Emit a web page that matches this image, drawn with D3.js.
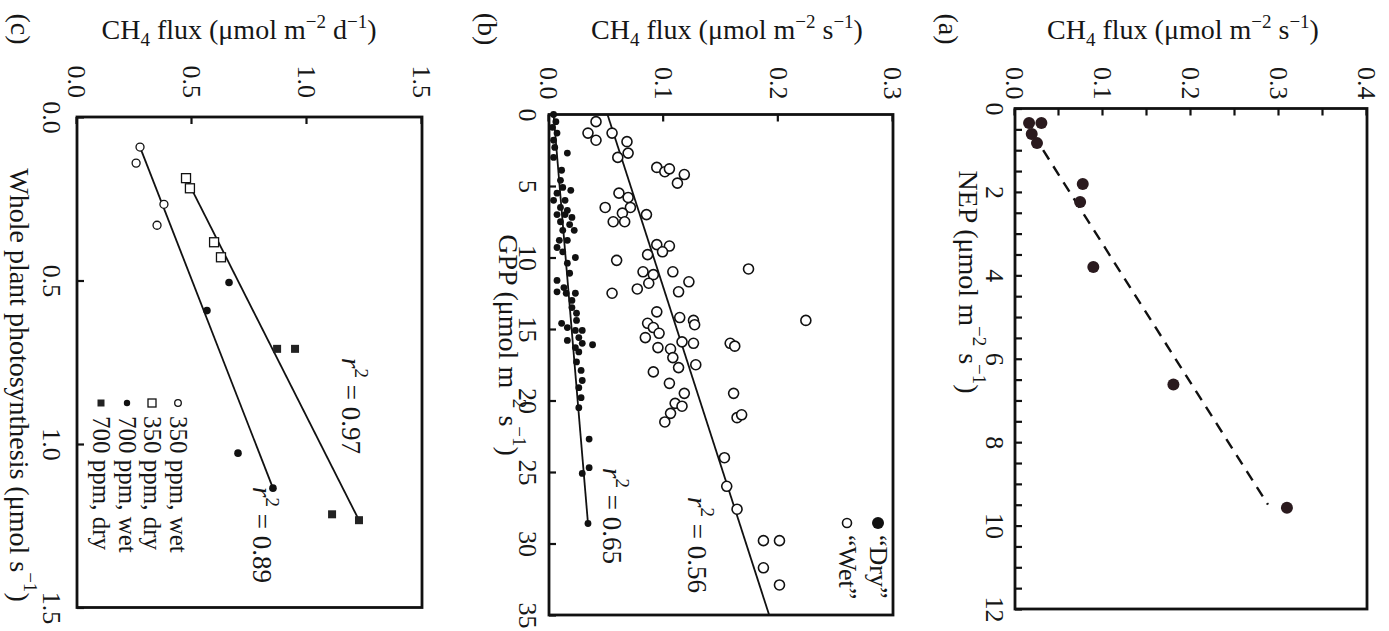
<!DOCTYPE html>
<html>
<head>
<meta charset="utf-8">
<script src="https://cdn.jsdelivr.net/npm/d3@7"></script>
<style>
  body { margin: 0; background: #fff; }
  text { font-family: "Liberation Serif", "Times New Roman", serif; fill: #161616; }
</style>
</head>
<body>
<svg></svg>
<script>
// ====== données ====== //

// (a) CH4 vs NEP
const nepA = [0.35, 0.35, 0.61, 0.83, 1.81, 2.24, 3.80, 6.62, 9.57];
const ch4A = [0.016, 0.030, 0.019, 0.025, 0.077, 0.074, 0.089, 0.180, 0.309];
const nepFitA = [1.0, 9.5];
const ch4FitA = [0.032, 0.2875];

// (b) CH4 vs GPP, "Wet" (cercles vides) et "Dry" (points pleins)
const gppWet = [0.5, 1.3, 1.8, 1.3, 1.9, 2.7, 3.0, 3.7, 4.0, 3.8, 4.2, 4.8, 5.5, 5.8, 6.5, 6.5, 6.9, 7.5, 7.5, 7.0,
  9.1, 9.2, 9.6, 9.8, 10.2, 10.8, 11.0, 11.2, 11.0, 11.7, 11.8, 12.2, 12.4, 12.5, 13.8, 14.2, 14.4, 14.6, 14.7, 14.9,
  15.3, 15.6, 14.4, 16.0, 16.2, 15.9, 16.0, 16.3, 16.4, 17.0, 17.7, 17.5, 18.0, 18.8, 19.5, 19.5, 20.2, 20.4, 20.9, 21.5,
  21.2, 21.0, 24.0, 26.0, 27.6, 29.8, 29.8, 31.7, 32.9];
const ch4Wet = [0.041, 0.034, 0.041, 0.055, 0.068, 0.069, 0.060, 0.094, 0.101, 0.105, 0.118, 0.112, 0.061, 0.069, 0.049, 0.071, 0.064, 0.056, 0.066, 0.085,
  0.094, 0.105, 0.099, 0.086, 0.059, 0.174, 0.082, 0.091, 0.108, 0.122, 0.087, 0.077, 0.113, 0.055, 0.094, 0.114, 0.126, 0.086, 0.127, 0.091,
  0.096, 0.084, 0.224, 0.158, 0.162, 0.116, 0.126, 0.095, 0.106, 0.108, 0.113, 0.128, 0.091, 0.105, 0.161, 0.118, 0.110, 0.116, 0.106, 0.101,
  0.164, 0.168, 0.153, 0.155, 0.164, 0.187, 0.201, 0.187, 0.201];
const gppDry = [0.0, 0.5, 0.9, 1.3, 1.8, 2.3, 2.7, 3.0, 3.9, 4.6, 5.1, 5.3, 5.5, 6.0, 6.0, 6.5, 6.7, 7.0, 7.0, 7.2,
  7.5, 7.7, 8.1, 8.1, 8.8, 8.8, 9.3, 9.6, 10.0, 10.4, 11.1, 11.6, 12.1, 12.4, 12.5, 12.5, 13.0, 13.5, 13.9, 14.4,
  14.6, 14.9, 15.1, 15.1, 15.6, 15.8, 16.3, 16.0, 16.1, 16.6, 17.3, 17.9, 18.6, 19.1, 19.8, 20.5, 22.7, 24.7, 25.1, 28.6];
const ch4Dry = [0.004, 0.006, 0.003, 0.007, 0.004, 0.005, 0.016, 0.004, 0.011, 0.010, 0.012, 0.019, 0.007, 0.004, 0.014, 0.010, 0.016, 0.007, 0.014, 0.020,
  0.010, 0.018, 0.012, 0.022, 0.009, 0.016, 0.007, 0.012, 0.023, 0.016, 0.018, 0.007, 0.013, 0.007, 0.015, 0.023, 0.020, 0.020, 0.024, 0.024,
  0.011, 0.016, 0.023, 0.029, 0.026, 0.016, 0.023, 0.029, 0.038, 0.026, 0.024, 0.028, 0.029, 0.026, 0.028, 0.026, 0.035, 0.035, 0.029, 0.034];
const gppFitWet = [0, 35];
const ch4FitWet = [0.051, 0.192];
const gppFitDry = [0, 28.6];
const ch4FitDry = [0.004, 0.034];

// (c) CH4 vs photosynthèse de la plante entière
const ps350wet = [0.092, 0.141, 0.267, 0.331];
const ch4_350wet = [0.274, 0.257, 0.378, 0.348];
const ps350dry = [0.187, 0.218, 0.383, 0.429];
const ch4_350dry = [0.474, 0.491, 0.596, 0.626];
const ps700wet = [0.506, 0.592, 1.028, 1.135];
const ch4_700wet = [0.661, 0.565, 0.700, 0.852];
const ps700dry = [0.709, 0.709, 1.215, 1.233];
const ch4_700dry = [0.870, 0.948, 1.109, 1.226];
const psFitWet = [0.092, 1.135];
const ch4FitWetC = [0.274, 0.852];
const psFitDry = [0.199, 1.233];
const ch4FitDryC = [0.483, 1.226];
const legendC = ["350 ppm, wet", "350 ppm, dry", "700 ppm, wet", "700 ppm, dry"];

// ====== mise en place ====== //
const W = 1389, H = 631;
const svg = d3.select("svg").attr("width", W).attr("height", H);

// la figure est tournée de 90° (sens horaire) : X = y écran, Y = W - x écran
const rot = svg.append("g").attr("transform", `translate(${W},0) rotate(90)`);
const S = sx => W - sx;
const FS = 26;      // graduations
const FT = 28;      // titres d'axes

function zip(a, b) { return a.map((v, i) => [v, b[i]]); }

// cadre + axes (ticks vers l'intérieur)
function frame(x, y, bottomTicks, bottomFmt, leftTicks, leftFmt, padB, padL) {
  const g = rot.append("g");
  g.append("rect")
    .attr("x", x.range()[0]).attr("y", y.range()[1])
    .attr("width", x.range()[1] - x.range()[0])
    .attr("height", y.range()[0] - y.range()[1])
    .attr("fill", "none").attr("stroke", "#111").attr("stroke-width", 2.8);
  const ab = g.append("g").attr("transform", `translate(0,${y.range()[0]})`)
    .call(d3.axisBottom(x).tickValues(bottomTicks).tickFormat(bottomFmt)
      .tickSizeInner(-7).tickSizeOuter(0).tickPadding(padB));
  const al = g.append("g").attr("transform", `translate(${x.range()[0]},0)`)
    .call(d3.axisLeft(y).tickValues(leftTicks).tickFormat(leftFmt)
      .tickSizeInner(-7).tickSizeOuter(0).tickPadding(padL));
  [ab, al].forEach(a => {
    a.select(".domain").remove();
    a.selectAll("line").attr("stroke", "#111").attr("stroke-width", 2.2);
    a.selectAll("text").attr("font-size", FS).attr("font-family", "Liberation Serif").attr("fill", "#161616");
  });
  return g;
}

// texte tourné centré sur un point écran
function rtext(sx, sy, anchor, fs) {
  return rot.append("text")
    .attr("x", sy).attr("y", S(sx))
    .attr("text-anchor", anchor || "middle")
    .attr("dominant-baseline", "central")
    .attr("font-size", fs || FT);
}

function unitLabel(t, pre, unit) {
  t.append("tspan").text(pre + " (μmol m");
  t.append("tspan").attr("dy", -11).attr("font-size", 19).text("−2");
  t.append("tspan").attr("dy", 11).text(" " + unit);
  t.append("tspan").attr("dy", -11).attr("font-size", 19).text("−1");
  t.append("tspan").attr("dy", 11).text(")");
}

function r2Label(sx, sy, val) {
  const t = rtext(sx, sy, "start", 27);
  t.append("tspan").attr("font-style", "italic").text("r");
  t.append("tspan").attr("dy", -11).attr("font-size", 19).text("2");
  t.append("tspan").attr("dy", 11).text(" = " + val);
}

// titres CH4 (droits à l'écran)
function ch4Title(cx, unit) {
  const t = svg.append("text").attr("x", cx).attr("y", 39)
    .attr("text-anchor", "middle").attr("font-size", FT);
  t.append("tspan").text("CH");
  t.append("tspan").attr("dy", 7).attr("font-size", 19).text("4");
  t.append("tspan").attr("dy", -7).text(" flux (μmol m");
  t.append("tspan").attr("dy", -11).attr("font-size", 19).text("−2");
  t.append("tspan").attr("dy", 11).text(" " + unit);
  t.append("tspan").attr("dy", -11).attr("font-size", 19).text("−1");
  t.append("tspan").attr("dy", 11).text(")");
}

const line = (x, y) => d3.line().x(d => x(d[0])).y(d => y(d[1]));

// ================= (a) ================= //
const xA = d3.scaleLinear().domain([0, 12]).range([108.5, 609]);
const yA = d3.scaleLinear().domain([0, 0.4]).range([S(1015), S(1367)]);
frame(xA, yA, d3.range(0, 12.01, 0.5), d => d % 2 === 0 ? d : "",
  d3.range(0, 0.401, 0.05), d => Math.round(d * 100) % 10 === 0 ? d.toFixed(1) : "", 11, 9);

rot.append("path").datum(zip(nepFitA, ch4FitA))
  .attr("d", line(xA, yA)).attr("fill", "none")
  .attr("stroke", "#111").attr("stroke-width", 2.4).attr("stroke-dasharray", "11,8");
rot.append("g").selectAll("circle").data(zip(nepA, ch4A)).join("circle")
  .attr("cx", d => xA(d[0])).attr("cy", d => yA(d[1])).attr("r", 6)
  .attr("fill", "#2a1a1e");

ch4Title(1183, "s");
rtext(948, 29).text("(a)");
unitLabel(rtext(969, 282), "NEP", "s");

// ================= (b) ================= //
const xB = d3.scaleLinear().domain([0, 35]).range([114.5, 615]);
const yB = d3.scaleLinear().domain([0, 0.3]).range([S(549), S(893)]);
frame(xB, yB, d3.range(0, 36, 5), d => d,
  [0, 0.1, 0.2, 0.3], d => d.toFixed(1), 12, 15);

rot.append("path").datum(zip(gppFitWet, ch4FitWet))
  .attr("d", line(xB, yB)).attr("fill", "none").attr("stroke", "#111").attr("stroke-width", 1.8);
rot.append("path").datum(zip(gppFitDry, ch4FitDry))
  .attr("d", line(xB, yB)).attr("fill", "none").attr("stroke", "#111").attr("stroke-width", 1.8);
rot.append("g").selectAll("circle").data(zip(gppWet, ch4Wet)).join("circle")
  .attr("cx", d => xB(d[0])).attr("cy", d => yB(d[1])).attr("r", 5)
  .attr("fill", "#fff").attr("stroke", "#111").attr("stroke-width", 1.6);
rot.append("g").selectAll("circle").data(zip(gppDry, ch4Dry)).join("circle")
  .attr("cx", d => xB(d[0])).attr("cy", d => yB(d[1])).attr("r", 3.4)
  .attr("fill", "#111");

// légende (b)
rot.append("circle").attr("cx", 523).attr("cy", S(878)).attr("r", 6).attr("fill", "#111");
rot.append("circle").attr("cx", 523).attr("cy", S(847)).attr("r", 4.5)
  .attr("fill", "#fff").attr("stroke", "#111").attr("stroke-width", 1.6);
rtext(878, 535, "start", 26).text("“Dry”");
rtext(847, 535, "start", 26).text("“Wet”");

r2Label(697, 497, "0.56");
r2Label(612, 468, "0.65");

ch4Title(727, "s");
rtext(487, 29).text("(b)");
unitLabel(rtext(509, 345), "GPP", "s");

// ================= (c) ================= //
const xC = d3.scaleLinear().domain([0, 1.5]).range([117, 607.5]);
const yC = d3.scaleLinear().domain([0, 1.5]).range([S(77), S(422)]);
frame(xC, yC, [0, 0.5, 1, 1.5], d => d.toFixed(1),
  [0, 0.5, 1, 1.5], d => d.toFixed(1), 16, 19);

rot.append("path").datum(zip(psFitWet, ch4FitWetC))
  .attr("d", line(xC, yC)).attr("fill", "none").attr("stroke", "#111").attr("stroke-width", 1.8);
rot.append("path").datum(zip(psFitDry, ch4FitDryC))
  .attr("d", line(xC, yC)).attr("fill", "none").attr("stroke", "#111").attr("stroke-width", 1.8);

const gc = rot.append("g");
gc.selectAll(".ow").data(zip(ps350wet, ch4_350wet)).join("circle").attr("class", "ow")
  .attr("cx", d => xC(d[0])).attr("cy", d => yC(d[1])).attr("r", 4)
  .attr("fill", "#fff").attr("stroke", "#111").attr("stroke-width", 1.3);
gc.selectAll(".od").data(zip(ps350dry, ch4_350dry)).join("rect").attr("class", "od")
  .attr("x", d => xC(d[0]) - 4.5).attr("y", d => yC(d[1]) - 4.5).attr("width", 9).attr("height", 9)
  .attr("fill", "#fff").attr("stroke", "#111").attr("stroke-width", 1.3);
gc.selectAll(".fw").data(zip(ps700wet, ch4_700wet)).join("circle").attr("class", "fw")
  .attr("cx", d => xC(d[0])).attr("cy", d => yC(d[1])).attr("r", 3.8)
  .attr("fill", "#111");
gc.selectAll(".fd").data(zip(ps700dry, ch4_700dry)).join("rect").attr("class", "fd")
  .attr("x", d => xC(d[0]) - 4).attr("y", d => yC(d[1]) - 4).attr("width", 8).attr("height", 8)
  .attr("fill", "#222");

// légende (c)
const legX = [178, 152, 127, 101];
legendC.forEach((lab, i) => {
  const cx = 403, cy = S(legX[i]);
  if (i === 0) rot.append("circle").attr("cx", cx).attr("cy", cy).attr("r", 3.3)
    .attr("fill", "#fff").attr("stroke", "#111").attr("stroke-width", 1.3);
  if (i === 1) rot.append("rect").attr("x", cx - 4).attr("y", cy - 4).attr("width", 8).attr("height", 8)
    .attr("fill", "#fff").attr("stroke", "#111").attr("stroke-width", 1.3);
  if (i === 2) rot.append("circle").attr("cx", cx).attr("cy", cy).attr("r", 3.2).attr("fill", "#111");
  if (i === 3) rot.append("rect").attr("x", cx - 3.5).attr("y", cy - 3.5).attr("width", 7).attr("height", 7).attr("fill", "#222");
  rtext(legX[i], 416, "start", 25).text(lab);
});

r2Label(351, 358, "0.97");
r2Label(262, 487, "0.89");

ch4Title(239, "d");
rtext(20, 29).text("(c)");
const tc = rtext(20, 385);
tc.append("tspan").text("Whole plant photosynthesis (μmol s");
tc.append("tspan").attr("dy", -11).attr("font-size", 19).text("−1");
tc.append("tspan").attr("dy", 11).text(")");
</script>
</body>
</html>
